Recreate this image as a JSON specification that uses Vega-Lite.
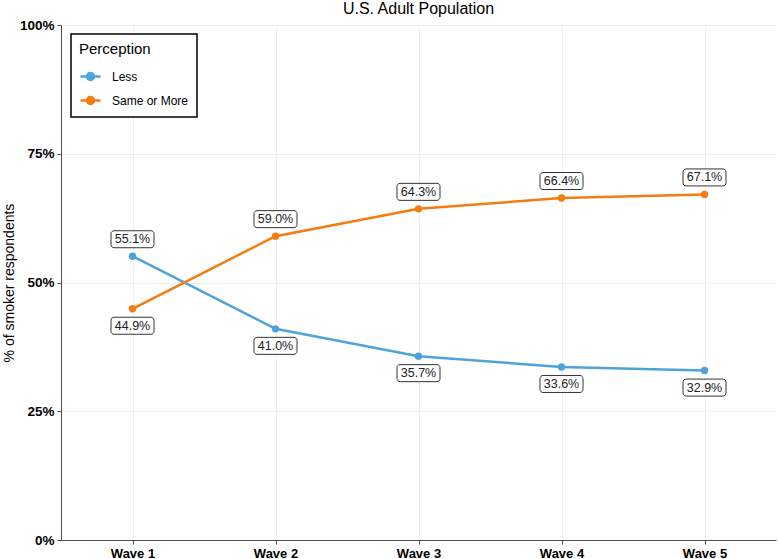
{
  "$schema": "https://vega.github.io/schema/vega-lite/v6.json",
  "autosize": "none",
  "width": 715,
  "height": 515,
  "padding": {"left": 61, "top": 25, "right": 2, "bottom": 19},
  "background": "white",
  "title": {"text": "U.S. Adult Population", "fontSize": 16, "font": "Liberation Sans", "fontWeight": "normal", "color": "black", "anchor": "middle", "offset": 1},
  "config": {
    "font": "Liberation Sans",
    "view": {"stroke": null},
    "axis": {"gridColor": "#ebebeb", "gridWidth": 0.8, "domainColor": "#4d4d4d", "domainWidth": 1, "tickColor": "#4d4d4d", "tickSize": 4, "labelFont": "Liberation Sans", "labelFontWeight": "bold", "labelFontSize": 13.5, "labelColor": "black", "titleFont": "Liberation Sans", "titleFontWeight": "normal", "titleFontSize": 14, "titleColor": "black"}
  },
  "data": {"values": [
    {"wave": "Wave 1", "perception": "Less", "value": 0.551},
    {"wave": "Wave 2", "perception": "Less", "value": 0.410},
    {"wave": "Wave 3", "perception": "Less", "value": 0.357},
    {"wave": "Wave 4", "perception": "Less", "value": 0.336},
    {"wave": "Wave 5", "perception": "Less", "value": 0.329},
    {"wave": "Wave 1", "perception": "Same or More", "value": 0.449},
    {"wave": "Wave 2", "perception": "Same or More", "value": 0.590},
    {"wave": "Wave 3", "perception": "Same or More", "value": 0.643},
    {"wave": "Wave 4", "perception": "Same or More", "value": 0.664},
    {"wave": "Wave 5", "perception": "Same or More", "value": 0.671}
  ]},
  "encoding": {
    "x": {"field": "wave", "type": "ordinal", "scale": {"type": "point", "padding": 0.5}, "axis": {"title": null, "labelAngle": 0, "grid": true, "labelPadding": 3, "labelFontSize": 13}},
    "y": {"field": "value", "type": "quantitative", "scale": {"domain": [0, 1], "nice": false}, "axis": {"title": "% of smoker respondents", "format": ".0%", "values": [0, 0.25, 0.5, 0.75, 1], "grid": true, "labelPadding": 3, "titlePadding": 3}}
  },
  "layer": [
    {
      "mark": {"type": "line", "strokeWidth": 2.5},
      "encoding": {
        "color": {"field": "perception", "type": "nominal", "scale": {"domain": ["Less", "Same or More"], "range": ["#4FA3DA", "#F57C0E"]},
          "legend": {"title": "Perception", "orient": "none", "legendX": 10, "legendY": 9, "padding": 8, "strokeColor": "black", "fillColor": "white", "titleFontSize": 15, "titleFontWeight": "normal", "titleColor": "black", "titlePadding": 8, "labelFontSize": 12, "labelColor": "black", "labelOffset": 10, "rowPadding": 4, "symbolType": "M-1,0L1,0M-0.35,0A0.35,0.35 0 1,1 0.35,0A0.35,0.35 0 1,1 -0.35,0Z", "symbolSize": 400, "symbolStrokeWidth": 2.5,
            "encode": {"legend": {"update": {"strokeWidth": {"value": 1.5}}}, "symbols": {"update": {"fill": {"scale": "color", "field": "value"}, "stroke": {"scale": "color", "field": "value"}}}}}
        }
      }
    },
    {
      "mark": {"type": "point", "filled": true, "size": 55, "opacity": 1},
      "encoding": {"color": {"field": "perception", "type": "nominal", "legend": null}}
    },
    {
      "transform": [
        {"joinaggregate": [{"op": "max", "field": "value", "as": "maxv"}], "groupby": ["wave"]},
        {"filter": "datum.value == datum.maxv"}
      ],
      "layer": [
        {"mark": {"type": "rect", "width": 43, "height": 17, "yOffset": -17, "cornerRadius": 3, "fill": "white", "stroke": "#333333", "strokeWidth": 1}},
        {"mark": {"type": "text", "yOffset": -17, "fontSize": 12.5, "color": "#222222", "baseline": "middle"}, "encoding": {"text": {"field": "value", "type": "quantitative", "format": ".1%"}}}
      ]
    },
    {
      "transform": [
        {"joinaggregate": [{"op": "max", "field": "value", "as": "maxv"}], "groupby": ["wave"]},
        {"filter": "datum.value < datum.maxv"}
      ],
      "layer": [
        {"mark": {"type": "rect", "width": 43, "height": 17, "yOffset": 17, "cornerRadius": 3, "fill": "white", "stroke": "#333333", "strokeWidth": 1}},
        {"mark": {"type": "text", "yOffset": 17, "fontSize": 12.5, "color": "#222222", "baseline": "middle"}, "encoding": {"text": {"field": "value", "type": "quantitative", "format": ".1%"}}}
      ]
    }
  ]
}
